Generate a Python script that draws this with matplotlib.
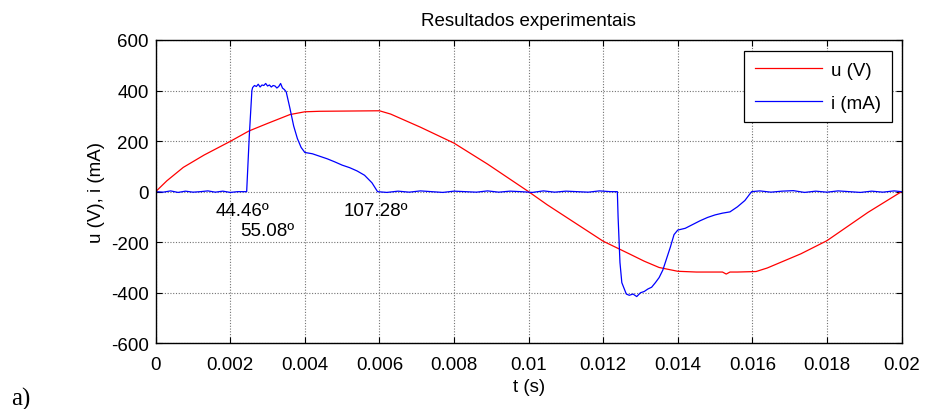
import numpy as np
import matplotlib.pyplot as plt

# tensao u (V)
t_u = [0, 0.0003, 0.00074, 0.0013, 0.002, 0.0025, 0.003, 0.0036, 0.004,
       0.0044, 0.006, 0.0063, 0.0071, 0.008, 0.0089, 0.01, 0.0105, 0.011,
       0.0115, 0.012, 0.0127, 0.0131, 0.0135, 0.014, 0.0145, 0.015, 0.0152,
       0.0153, 0.0154, 0.0156, 0.0161, 0.0164, 0.0173, 0.018, 0.0191, 0.02]
u = [0, 43, 96, 145, 199, 240, 270, 305, 316,
     318, 320, 307, 255, 192, 109, 0, -52, -100,
     -148, -196, -246, -275, -300, -315, -318, -318, -318,
     -326, -318, -318, -316, -302, -246, -194, -82, 0]

# corrente i (mA)
t_i = [0, 0.0002, 0.0004, 0.0006, 0.0008, 0.001, 0.0012, 0.0014, 0.0016,
       0.0018, 0.002, 0.0022, 0.00244, 0.00251, 0.00258, 0.0026, 0.00265,
       0.0027, 0.00275, 0.0028, 0.00285, 0.0029, 0.00295, 0.003, 0.00305,
       0.0031, 0.00315, 0.0032, 0.00325, 0.0033, 0.00335, 0.0034, 0.00345,
       0.0035, 0.0036, 0.0037, 0.0038, 0.0039, 0.004, 0.0042, 0.0044, 0.0046,
       0.0048, 0.005, 0.0052, 0.0054, 0.0056, 0.0058, 0.00595,
       0.0062, 0.0065, 0.0068, 0.0071, 0.0074, 0.0077, 0.008, 0.0083, 0.0086,
       0.0089, 0.0092, 0.0095, 0.0098, 0.0101, 0.0104, 0.0107, 0.011,
       0.0113, 0.0116, 0.0119, 0.0122, 0.01238, 0.0124, 0.01245, 0.0125,
       0.01262, 0.0127, 0.0128, 0.0129, 0.013, 0.0131, 0.0132, 0.0133,
       0.0134, 0.0135, 0.0136, 0.0137, 0.0138, 0.0139, 0.014, 0.0142, 0.0144,
       0.0146, 0.0148, 0.015, 0.0152, 0.0154, 0.0156, 0.0158, 0.01598,
       0.0162, 0.0165, 0.0168, 0.0171, 0.0174, 0.0177, 0.018, 0.0183,
       0.0186, 0.0189, 0.0192, 0.0195, 0.0198, 0.02]
i = [0, -2, 3, -3, 2, -2, 0, 3, -2,
     2, -3, 0, 0, 220, 400, 412, 420,
     416, 425, 414, 422, 420, 428, 418, 422,
     414, 420, 418, 410, 416, 428, 410, 404,
     395, 330, 260, 210, 175, 155, 150, 140, 130,
     118, 105, 95, 82, 65, 35, 0,
     -3, 2, -2, 3, 0, -3, 2, 0, -2,
     3, -2, 2, 0, -3, 3, -2, 2,
     0, -2, 3, 0, 0, -100, -280, -360,
     -405, -410, -405, -415, -400, -395, -385, -378,
     -360, -340, -310, -265, -220, -170, -152, -145, -130,
     -115, -102, -92, -85, -80, -60, -35, 0,
     3, -2, 2, 4, -3, 2, -2, 3,
     0, -3, 2, -2, 3, 0]

xticks = np.arange(0, 0.0201, 0.002)
xtick_labels = ['0', '0.002', '0.004', '0.006', '0.008', '0.01',
                '0.012', '0.014', '0.016', '0.018', '0.02']
yticks = [-600, -400, -200, 0, 200, 400, 600]

angulos = ['44.46º', '55.08º', '107.28º']
ang_t = [0.00233, 0.0030, 0.00591]
ang_v = [-75, -154, -75]

plt.rcParams['font.family'] = ['Liberation Sans', 'DejaVu Sans']
plt.rcParams['font.size'] = 13.5
plt.rcParams['axes.unicode_minus'] = False

fig = plt.figure(figsize=(9.25, 4.1), dpi=100)
ax = fig.add_axes([0.1683, 0.1602, 0.8063, 0.7398])

ax.plot(t_u, u, color='#ff0000', lw=0.9, label='u (V)')
ax.plot(t_i, i, color='#0000ff', lw=0.9, label='i (mA)')

ax.set_xlim(0, 0.02)
ax.set_ylim(-600, 600)
ax.set_xticks(xticks)
ax.set_xticklabels(xtick_labels)
ax.set_yticks(yticks)
ax.grid(True, color='0.45', linestyle=(0, (1, 1.5)), lw=0.8)
ax.tick_params(direction='in', length=4, width=0.8, top=True, right=True,
               colors='black')
ax.tick_params(axis='x', pad=9)
ax.tick_params(axis='y', pad=5)
for s in ax.spines.values():
    s.set_linewidth(1.0)

ax.set_title('Resultados experimentais', fontsize=13.5, pad=11)
ax.set_xlabel('t (s)', labelpad=4)
ax.set_ylabel('u (V), i (mA)', labelpad=4)

for txt, tx, vy in zip(angulos, ang_t, ang_v):
    ax.text(tx, vy, txt, ha='center', va='center', fontsize=13.5)

leg = ax.legend(loc='upper right', bbox_to_anchor=(0.987, 0.963),
                borderaxespad=0, fancybox=False, edgecolor='black',
                framealpha=1, handlelength=3.6, handletextpad=0.5,
                labelspacing=0.85, borderpad=0.55)
leg.get_frame().set_linewidth(0.9)

fig.text(21 / 925, 1 - 399 / 410, 'a)', family='Liberation Serif',
         fontsize=18, ha='center', va='center')

fig.savefig('out.png', dpi=100)
